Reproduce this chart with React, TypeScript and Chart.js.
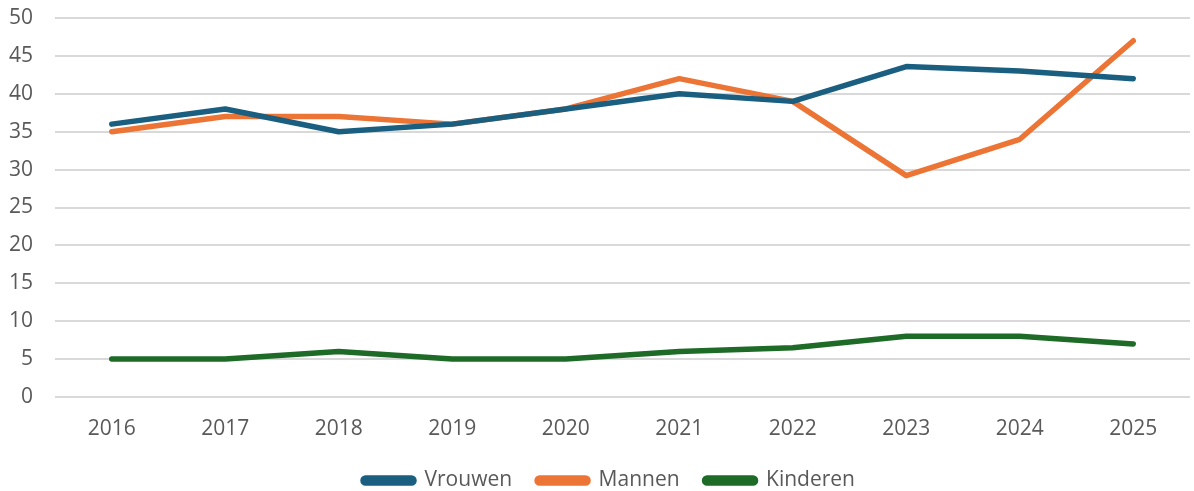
import React, { useEffect, useRef } from "react";
import { Chart, registerables } from "chart.js";

Chart.register(...registerables);

const years = ["2016", "2017", "2018", "2019", "2020", "2021", "2022", "2023", "2024", "2025"];
const vrouwen = [36, 38, 35, 36, 38, 40, 39, 43.6, 43, 42];
const mannen = [35, 37, 37, 36, 38, 42, 39, 29.2, 34, 47];
const kinderen = [5, 5, 6, 5, 5, 6, 6.5, 8, 8, 7];

const FONT = "'Open Sans', sans-serif";
const TEXT = "#595959";

const legendShift = {
  id: "legendShift",
  beforeDraw(chart: any) {
    if (chart.legend) chart.legend.left = 28;
  },
};

export default function App() {
  const ref = useRef<HTMLCanvasElement>(null);
  useEffect(() => {
    if (!ref.current) return;
    const mk = (label: string, data: number[], color: string) => ({
      label,
      data,
      borderColor: color,
      backgroundColor: color,
      borderWidth: 5.5,
      pointRadius: 0,
      tension: 0,
      borderCapStyle: "round" as const,
      borderJoinStyle: "round" as const,
    });
    const chart = new Chart(ref.current, {
      type: "line",
      data: {
        labels: years,
        datasets: [
          mk("Vrouwen", vrouwen, "#1A5E80"),
          mk("Mannen", mannen, "#EC7535"),
          mk("Kinderen", kinderen, "#1E6B27"),
        ],
      },
      plugins: [legendShift],
      options: {
        animation: false,
        responsive: false,
        layout: { padding: { top: 18, right: 4, left: 0, bottom: -10 } },
        scales: {
          x: {
            offset: true,
            grid: { display: false, drawTicks: false },
            border: { display: false },
            ticks: { color: TEXT, font: { family: FONT, size: 21 }, padding: 19 },
            afterFit: (s: any) => { s.height = 48; },
          },
          y: {
            min: 0,
            max: 50,
            ticks: { stepSize: 5, color: TEXT, font: { family: FONT, size: 21 }, padding: 22 },
            grid: { color: "#D9D9D9", lineWidth: 2, drawTicks: false },
            border: { display: false },
            afterFit: (s: any) => { s.width = 55; s.paddingTop = 0; s.paddingBottom = 0; },
          },
        },
        plugins: {
          legend: {
            position: "bottom",
            labels: {
              color: TEXT,
              font: { family: FONT, size: 21 },
              boxWidth: 51,
              boxHeight: 5,
              useBorderRadius: true,
              borderRadius: 2.5,
              padding: 25,
            },
          },
          tooltip: { enabled: false },
        },
      },
    });
    return () => chart.destroy();
  }, []);
  return (
    <div style={{ position: "absolute", left: 0, top: 0, width: 1194, height: 491, background: "#fff" }}>
      <canvas ref={ref} width={1194} height={491} />
    </div>
  );
}
